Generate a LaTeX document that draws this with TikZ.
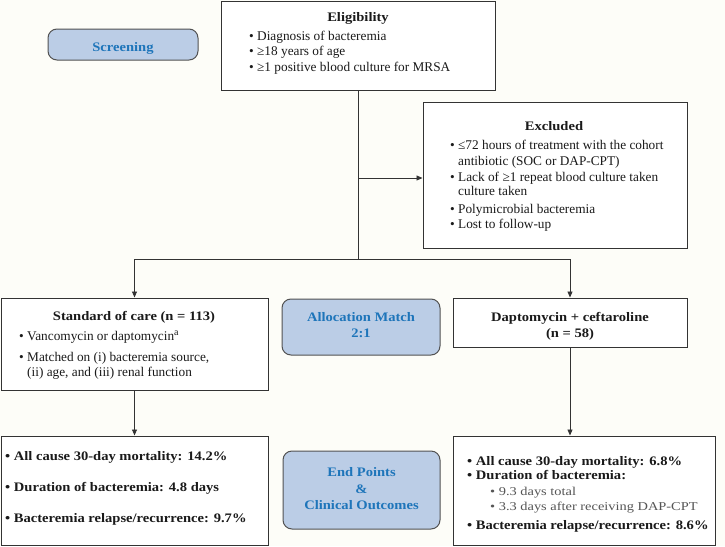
\documentclass[tikz,border=0pt]{standalone}
\usepackage{fontspec}
\setmainfont{Liberation Serif}[BoldFeatures={FakeStretch=1.12}]
\newfontfamily\subfont{Liberation Serif}[FakeStretch=1.2]
\usetikzlibrary{arrows.meta}
\definecolor{bg}{HTML}{FDFDF8}
\definecolor{edge}{HTML}{333333}
\definecolor{bluefill}{HTML}{BBCDE6}
\definecolor{bluetext}{HTML}{1E75BA}
\definecolor{subgray}{HTML}{555555}
\definecolor{ink}{HTML}{1A1A1A}
\tikzset{
  box/.style={draw=edge, line width=1pt, fill=white, inner sep=0pt},
  phase/.style={draw=edge!85, line width=1pt, fill=bluefill, rounded corners=9pt, inner sep=0pt},
  ptxt/.style={inner sep=0pt, anchor=base, text=bluetext, font=\fontsize{13}{15}\selectfont\bfseries},
  ln/.style={inner sep=0pt, anchor=base west, text=ink, font=\fontsize{13.3}{15}\selectfont},
  sub/.style={ln, text=subgray, font=\fontsize{12}{14}\subfont},
  bln/.style={ln, font=\fontsize{13}{15}\selectfont\bfseries},
  ttl/.style={inner sep=0pt, anchor=base, text=ink, font=\fontsize{13}{15}\selectfont\bfseries},
  conn/.style={draw=edge, line width=0.9pt},
  arr/.style={conn, -{Triangle[length=6pt,width=5pt]}},
}
\begin{document}
\begin{tikzpicture}[x=1pt,y=-1pt]
\useasboundingbox (0,0) rectangle (725,546);
\fill[bg] (0,0) rectangle (725,546);

% boxes
\node[phase, minimum width=150, minimum height=31] (scr) at (123,44.5) {};
\node[box, minimum width=274, minimum height=89] (elig) at (358,45.5) {};
\node[box, minimum width=264, minimum height=146] (excl) at (555,175) {};
\node[box, minimum width=267, minimum height=92] (soc) at (134.5,344) {};
\node[phase, minimum width=158, minimum height=56] (alloc) at (361,327) {};
\node[box, minimum width=234, minimum height=49] (dap) at (570,322.5) {};
\node[box, minimum width=267, minimum height=109] (socout) at (134.5,490.5) {};
\node[phase, minimum width=157, minimum height=78] (endp) at (361.5,490) {};
\node[box, minimum width=262, minimum height=109] (dapout) at (584,490.5) {};

% connectors
\coordinate (split) at (358,259);
\coordinate (jx) at (358,178);
\draw[conn] (elig.south) -- (split);
\draw[arr] (jx) -- (jx -| excl.west);
\draw[arr] (split) -| (soc.north);
\draw[arr] (split) -| (dap.north);
\draw[arr] (soc.south) -- (socout.north);
\draw[arr] (dap.south) -- (dap.south |- dapout.north);

% Screening
\node[ptxt] (scrT) at (123,51.7) {Screening};

% Eligibility
\node[ttl] (eligT) at (358,21.7) {Eligibility};
\node[ln] (e1) at (249,40) {• Diagnosis of bacteremia};
\node[ln] (e2) at (249,55.5) {• ≥18 years of age};
\node[ln] (e3) at (249,71) {• ≥1 positive blood culture for MRSA};

% Excluded
\node[ttl] (exT) at (554,130.7) {Excluded};
\node[ln] (x1) at (450,149.3) {• ≤72 hours of treatment with the cohort};
\node[ln] (x2) at (458,165) {antibiotic (SOC or DAP-CPT)};
\node[ln] (x3) at (450,181) {• Lack of ≥1 repeat blood culture taken};
\node[ln] (x4) at (458,195.5) {culture taken};
\node[ln] (x5) at (450,213) {• Polymicrobial bacteremia};
\node[ln] (x6) at (450,228.3) {• Lost to follow-up};

% Standard of care
\node[ttl] (socT) at (134,320) {Standard of care (n = 113)};
\node[ln] (s1) at (19,340) {• Vancomycin or daptomycin\raisebox{4.5pt}{\fontsize{10}{10}\selectfont a}};
\node[ln] (s2) at (19,361) {• Matched on (i) bacteremia source,};
\node[ln] (s3) at (27,376.7) {(ii) age, and (iii) renal function};

% Allocation
\node[ptxt] (alT1) at (361,321.7) {Allocation Match};
\node[ptxt] (alT2) at (361,337.3) {2:1};

% DAP-CPT
\node[ttl] (dapT1) at (570,321.7) {Daptomycin + ceftaroline};
\node[ttl] (dapT2) at (570,337.3) {(n = 58)};

% SOC outcomes
\node[bln] (o1) at (5,460) {• All cause 30-day mortality: 14.2\%};
\node[bln] (o2) at (5,491) {• Duration of bacteremia: 4.8 days};
\node[bln] (o3) at (5,522.3) {• Bacteremia relapse/recurrence: 9.7\%};

% End points
\node[ptxt] (epT1) at (361.5,476.7) {End Points};
\node[ptxt] (epT2) at (361.5,493.3) {\&};
\node[ptxt] (epT3) at (361.5,509.3) {Clinical Outcomes};

% DAP outcomes
\node[bln] (d1) at (467,465) {• All cause 30-day mortality: 6.8\%};
\node[bln] (d2) at (467,479.3) {• Duration of bacteremia:};
\node[sub] (d3) at (490,495) {• 9.3 days total};
\node[sub] (d4) at (490,510) {• 3.3 days after receiving DAP-CPT};
\node[bln] (d5) at (467,529) {• Bacteremia relapse/recurrence: 8.6\%};
\end{tikzpicture}
\end{document}
